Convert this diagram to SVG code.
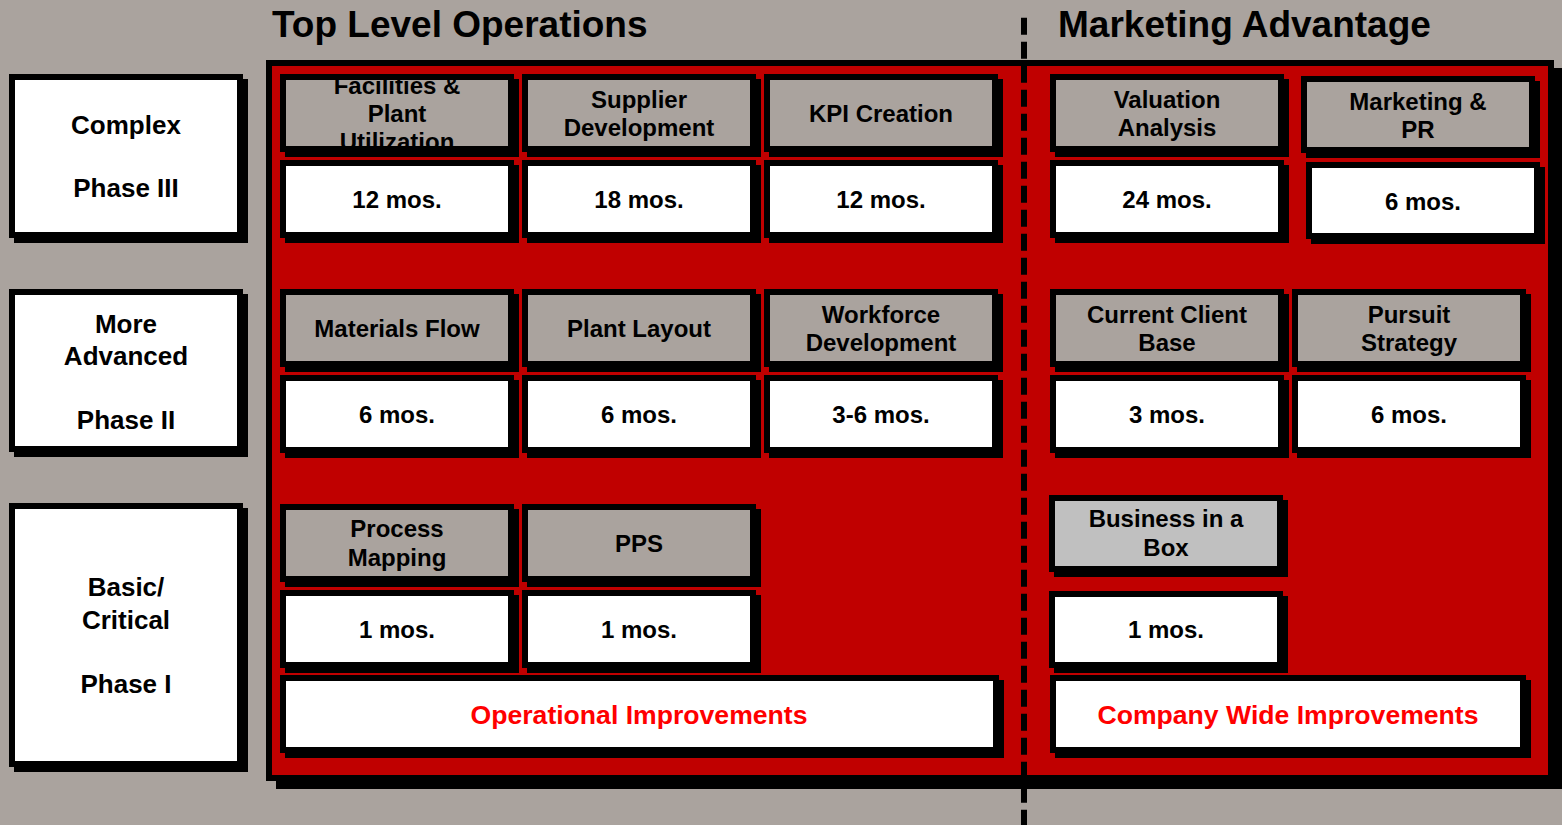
<svg xmlns="http://www.w3.org/2000/svg" width="1562" height="825" viewBox="0 0 1562 825">
  <defs>
    <style>
      .bd { fill: #000; }
      .fg { fill: #AAA39E; }
      .fw { fill: #FFFFFF; }
      .fl { fill: #C0C0C0; }
      .t { font-family: "Liberation Sans", Arial, sans-serif; font-weight: bold; text-anchor: middle; fill: #000; }
      .lab { font-size: 26px; }
      .hd { font-size: 24px; }
      .val { font-size: 24px; }
      .imp { font-size: 26.6px; fill: #FF0000; }
      .title { font-family: "Liberation Sans", Arial, sans-serif; font-weight: bold; font-size: 37px; fill: #000; }
    </style>
    <clipPath id="clipFac"><rect x="286" y="80" width="222" height="66"/></clipPath>
  </defs>

  <!-- background -->
  <rect x="0" y="0" width="1562" height="825" fill="#AAA39E"/>

  <!-- column titles -->
  <text class="title" x="272" y="37">Top Level Operations</text>
  <text class="title" x="1058" y="37">Marketing Advantage</text>

  <!-- red work panel with shadow -->
  <g id="panel">
    <rect class="bd" x="276" y="68" width="1288" height="721"/>
    <rect class="bd" x="266" y="60" width="1288" height="721"/>
    <rect x="272" y="66" width="1276" height="709" fill="#C00000"/>
  </g>

  <!-- divider between the two areas -->
  <g id="connectors">
    <line x1="1024" y1="17.7" x2="1024" y2="825" stroke="#000" stroke-width="6" stroke-dasharray="17 7"/>
  </g>

  <!-- phase labels -->
  <g id="phase3">
    <rect class="bd" x="14" y="79" width="234" height="164"/>
    <rect class="bd" x="9" y="74" width="234" height="164"/>
    <rect class="fw" x="15" y="80" width="222" height="152"/>
    <text class="t lab" x="126" y="134">Complex</text>
    <text class="t lab" x="126" y="197">Phase III</text>
  </g>
  <g id="phase2">
    <rect class="bd" x="14" y="294" width="234" height="163"/>
    <rect class="bd" x="9" y="289" width="234" height="163"/>
    <rect class="fw" x="15" y="295" width="222" height="151"/>
    <text class="t lab" x="126" y="333">More</text>
    <text class="t lab" x="126" y="365">Advanced</text>
    <text class="t lab" x="126" y="429">Phase II</text>
  </g>
  <g id="phase1">
    <rect class="bd" x="14" y="508" width="234" height="264"/>
    <rect class="bd" x="9" y="503" width="234" height="264"/>
    <rect class="fw" x="15" y="509" width="222" height="252"/>
    <text class="t lab" x="126" y="596">Basic/</text>
    <text class="t lab" x="126" y="629">Critical</text>
    <text class="t lab" x="126" y="693">Phase I</text>
  </g>

  <!-- Phase III row -->
  <g id="facilities">
    <rect class="bd" x="285" y="79" width="234" height="78"/>
    <rect class="bd" x="280" y="74" width="234" height="78"/>
    <rect class="fg" x="286" y="80" width="222" height="66"/>
    <g clip-path="url(#clipFac)">
      <text class="t hd" x="397" y="94">Facilities &amp;</text>
      <text class="t hd" x="397" y="122">Plant</text>
      <text class="t hd" x="397" y="150">Utilization</text>
    </g>
  </g>
  <g id="facilities-time">
    <rect class="bd" x="285" y="165" width="234" height="78"/>
    <rect class="bd" x="280" y="160" width="234" height="78"/>
    <rect class="fw" x="286" y="166" width="222" height="66"/>
    <text class="t val" x="397" y="207.5">12 mos.</text>
  </g>
  <g id="supplier">
    <rect class="bd" x="527" y="79" width="234" height="78"/>
    <rect class="bd" x="522" y="74" width="234" height="78"/>
    <rect class="fg" x="528" y="80" width="222" height="66"/>
    <text class="t hd" x="639" y="108">Supplier</text>
    <text class="t hd" x="639" y="136">Development</text>
  </g>
  <g id="supplier-time">
    <rect class="bd" x="527" y="165" width="234" height="78"/>
    <rect class="bd" x="522" y="160" width="234" height="78"/>
    <rect class="fw" x="528" y="166" width="222" height="66"/>
    <text class="t val" x="639" y="207.5">18 mos.</text>
  </g>
  <g id="kpi">
    <rect class="bd" x="769" y="79" width="234" height="78"/>
    <rect class="bd" x="764" y="74" width="234" height="78"/>
    <rect class="fg" x="770" y="80" width="222" height="66"/>
    <text class="t hd" x="881" y="122">KPI Creation</text>
  </g>
  <g id="kpi-time">
    <rect class="bd" x="769" y="165" width="234" height="78"/>
    <rect class="bd" x="764" y="160" width="234" height="78"/>
    <rect class="fw" x="770" y="166" width="222" height="66"/>
    <text class="t val" x="881" y="207.5">12 mos.</text>
  </g>
  <g id="valuation">
    <rect class="bd" x="1055" y="79" width="234" height="78"/>
    <rect class="bd" x="1050" y="74" width="234" height="78"/>
    <rect class="fg" x="1056" y="80" width="222" height="66"/>
    <text class="t hd" x="1167" y="108">Valuation</text>
    <text class="t hd" x="1167" y="136">Analysis</text>
  </g>
  <g id="valuation-time">
    <rect class="bd" x="1055" y="165" width="234" height="78"/>
    <rect class="bd" x="1050" y="160" width="234" height="78"/>
    <rect class="fw" x="1056" y="166" width="222" height="66"/>
    <text class="t val" x="1167" y="207.5">24 mos.</text>
  </g>
  <g id="marketing">
    <rect class="bd" x="1306" y="81" width="234" height="77"/>
    <rect class="bd" x="1301" y="76" width="234" height="77"/>
    <rect class="fg" x="1307" y="82" width="222" height="65"/>
    <text class="t hd" x="1418" y="110">Marketing &amp;</text>
    <text class="t hd" x="1418" y="138">PR</text>
  </g>
  <g id="marketing-time">
    <rect class="bd" x="1311" y="167" width="234" height="77"/>
    <rect class="bd" x="1306" y="162" width="234" height="77"/>
    <rect class="fw" x="1312" y="168" width="222" height="65"/>
    <text class="t val" x="1423" y="209.5">6 mos.</text>
  </g>

  <!-- Phase II row -->
  <g id="materials">
    <rect class="bd" x="285" y="294" width="234" height="78"/>
    <rect class="bd" x="280" y="289" width="234" height="78"/>
    <rect class="fg" x="286" y="295" width="222" height="66"/>
    <text class="t hd" x="397" y="337">Materials Flow</text>
  </g>
  <g id="materials-time">
    <rect class="bd" x="285" y="380" width="234" height="78"/>
    <rect class="bd" x="280" y="375" width="234" height="78"/>
    <rect class="fw" x="286" y="381" width="222" height="66"/>
    <text class="t val" x="397" y="423">6 mos.</text>
  </g>
  <g id="layout">
    <rect class="bd" x="527" y="294" width="234" height="78"/>
    <rect class="bd" x="522" y="289" width="234" height="78"/>
    <rect class="fg" x="528" y="295" width="222" height="66"/>
    <text class="t hd" x="639" y="337">Plant Layout</text>
  </g>
  <g id="layout-time">
    <rect class="bd" x="527" y="380" width="234" height="78"/>
    <rect class="bd" x="522" y="375" width="234" height="78"/>
    <rect class="fw" x="528" y="381" width="222" height="66"/>
    <text class="t val" x="639" y="423">6 mos.</text>
  </g>
  <g id="workforce">
    <rect class="bd" x="769" y="294" width="234" height="78"/>
    <rect class="bd" x="764" y="289" width="234" height="78"/>
    <rect class="fg" x="770" y="295" width="222" height="66"/>
    <text class="t hd" x="881" y="323">Workforce</text>
    <text class="t hd" x="881" y="351">Development</text>
  </g>
  <g id="workforce-time">
    <rect class="bd" x="769" y="380" width="234" height="78"/>
    <rect class="bd" x="764" y="375" width="234" height="78"/>
    <rect class="fw" x="770" y="381" width="222" height="66"/>
    <text class="t val" x="881" y="423">3-6 mos.</text>
  </g>
  <g id="client">
    <rect class="bd" x="1055" y="294" width="234" height="78"/>
    <rect class="bd" x="1050" y="289" width="234" height="78"/>
    <rect class="fg" x="1056" y="295" width="222" height="66"/>
    <text class="t hd" x="1167" y="323">Current Client</text>
    <text class="t hd" x="1167" y="351">Base</text>
  </g>
  <g id="client-time">
    <rect class="bd" x="1055" y="380" width="234" height="78"/>
    <rect class="bd" x="1050" y="375" width="234" height="78"/>
    <rect class="fw" x="1056" y="381" width="222" height="66"/>
    <text class="t val" x="1167" y="423">3 mos.</text>
  </g>
  <g id="pursuit">
    <rect class="bd" x="1297" y="294" width="234" height="78"/>
    <rect class="bd" x="1292" y="289" width="234" height="78"/>
    <rect class="fg" x="1298" y="295" width="222" height="66"/>
    <text class="t hd" x="1409" y="323">Pursuit</text>
    <text class="t hd" x="1409" y="351">Strategy</text>
  </g>
  <g id="pursuit-time">
    <rect class="bd" x="1297" y="380" width="234" height="78"/>
    <rect class="bd" x="1292" y="375" width="234" height="78"/>
    <rect class="fw" x="1298" y="381" width="222" height="66"/>
    <text class="t val" x="1409" y="423">6 mos.</text>
  </g>

  <!-- Phase I row -->
  <g id="process">
    <rect class="bd" x="285" y="509" width="234" height="78"/>
    <rect class="bd" x="280" y="504" width="234" height="78"/>
    <rect class="fg" x="286" y="510" width="222" height="66"/>
    <text class="t hd" x="397" y="537">Process</text>
    <text class="t hd" x="397" y="566">Mapping</text>
  </g>
  <g id="process-time">
    <rect class="bd" x="285" y="595" width="234" height="78"/>
    <rect class="bd" x="280" y="590" width="234" height="78"/>
    <rect class="fw" x="286" y="596" width="222" height="66"/>
    <text class="t val" x="397" y="638">1 mos.</text>
  </g>
  <g id="pps">
    <rect class="bd" x="527" y="509" width="234" height="78"/>
    <rect class="bd" x="522" y="504" width="234" height="78"/>
    <rect class="fg" x="528" y="510" width="222" height="66"/>
    <text class="t hd" x="639" y="552">PPS</text>
  </g>
  <g id="pps-time">
    <rect class="bd" x="527" y="595" width="234" height="78"/>
    <rect class="bd" x="522" y="590" width="234" height="78"/>
    <rect class="fw" x="528" y="596" width="222" height="66"/>
    <text class="t val" x="639" y="638">1 mos.</text>
  </g>
  <g id="business-box">
    <rect class="bd" x="1054" y="500" width="234" height="77"/>
    <rect class="bd" x="1049" y="495" width="234" height="77"/>
    <rect class="fl" x="1055" y="501" width="222" height="65"/>
    <text class="t hd" x="1166" y="527">Business in a</text>
    <text class="t hd" x="1166" y="556">Box</text>
  </g>
  <g id="business-box-time">
    <rect class="bd" x="1054" y="596" width="234" height="77"/>
    <rect class="bd" x="1049" y="591" width="234" height="77"/>
    <rect class="fw" x="1055" y="597" width="222" height="65"/>
    <text class="t val" x="1166" y="638">1 mos.</text>
  </g>

  <!-- improvement banners -->
  <g id="operational">
    <rect class="bd" x="285" y="680" width="719" height="78"/>
    <rect class="bd" x="280" y="675" width="719" height="78"/>
    <rect class="fw" x="286" y="681" width="707" height="66"/>
    <text class="t imp" x="639" y="724">Operational Improvements</text>
  </g>
  <g id="company-wide">
    <rect class="bd" x="1055" y="680" width="476" height="78"/>
    <rect class="bd" x="1050" y="675" width="476" height="78"/>
    <rect class="fw" x="1056" y="681" width="464" height="66"/>
    <text class="t imp" x="1288" y="724">Company Wide Improvements</text>
  </g>
</svg>
